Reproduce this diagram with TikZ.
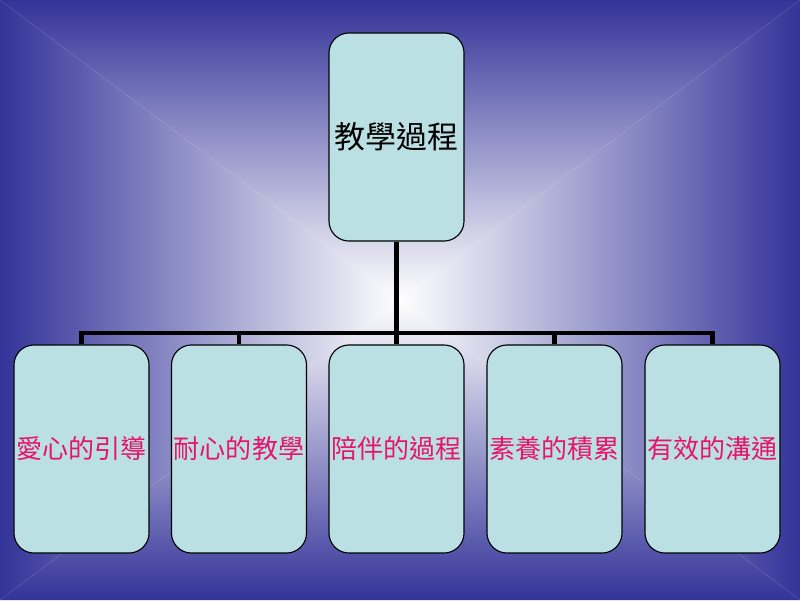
\documentclass[tikz,border=0pt]{standalone}
\usepackage{fontspec}
\newfontfamily\cjk{Noto Sans CJK TC}
\usepackage{tikz}

\definecolor{edgeblue}{RGB}{51,51,153}
\definecolor{boxfill}{RGB}{187,224,227}
\definecolor{pinktext}{RGB}{230,20,110}

\tikzset{
	box/.style={shape=rectangle,rounded corners=0.5cm,draw=black,line width=0.8pt,fill=boxfill,inner sep=0pt,minimum width=3.375cm,minimum height=5.2cm,font=\cjk},
	sub/.style={box,text=pinktext,font=\cjk\fontsize{18.5}{20}\selectfont},
	conn/.style={line width=3.1pt,draw=black}
}

\begin{document}
\begin{tikzpicture}[x=0.025cm,y=-0.025cm]
	\useasboundingbox (0,0) rectangle (800,600);
	\shade[top color=edgeblue,middle color=edgeblue!32!white,bottom color=white] (0,0) -- (800,0) -- (400,300) -- cycle;
	\shade[bottom color=edgeblue,middle color=edgeblue!32!white,top color=white] (0,600) -- (800,600) -- (400,300) -- cycle;
	\shade[left color=edgeblue,middle color=edgeblue!32!white,right color=white] (0,0) -- (0,600) -- (400,300) -- cycle;
	\shade[right color=edgeblue,middle color=edgeblue!32!white,left color=white] (800,0) -- (800,600) -- (400,300) -- cycle;
	\node[box,font=\cjk\fontsize{22}{24}\selectfont] (T) at (396.5,137) {教學過程};
	\node[sub] (L) at (81.5,449) {愛心的引導};
	\node[sub] (P) at (239,449) {耐心的教學};
	\node[sub] (C) at (396.5,449) {陪伴的過程};
	\node[sub] (S) at (554.5,449) {素養的積累};
	\node[sub] (M) at (712.5,449) {有效的溝通};
	\coordinate (hub) at (396.5,333);
	\path [conn] (T) edge (hub);
	\path [conn] (hub) edge (C);
	\draw [conn] (L.north) |- (hub) -| (M.north);
	\draw [conn] (hub) -| (P.north);
	\draw [conn] (hub) -| (S.north);
\end{tikzpicture}
\end{document}
